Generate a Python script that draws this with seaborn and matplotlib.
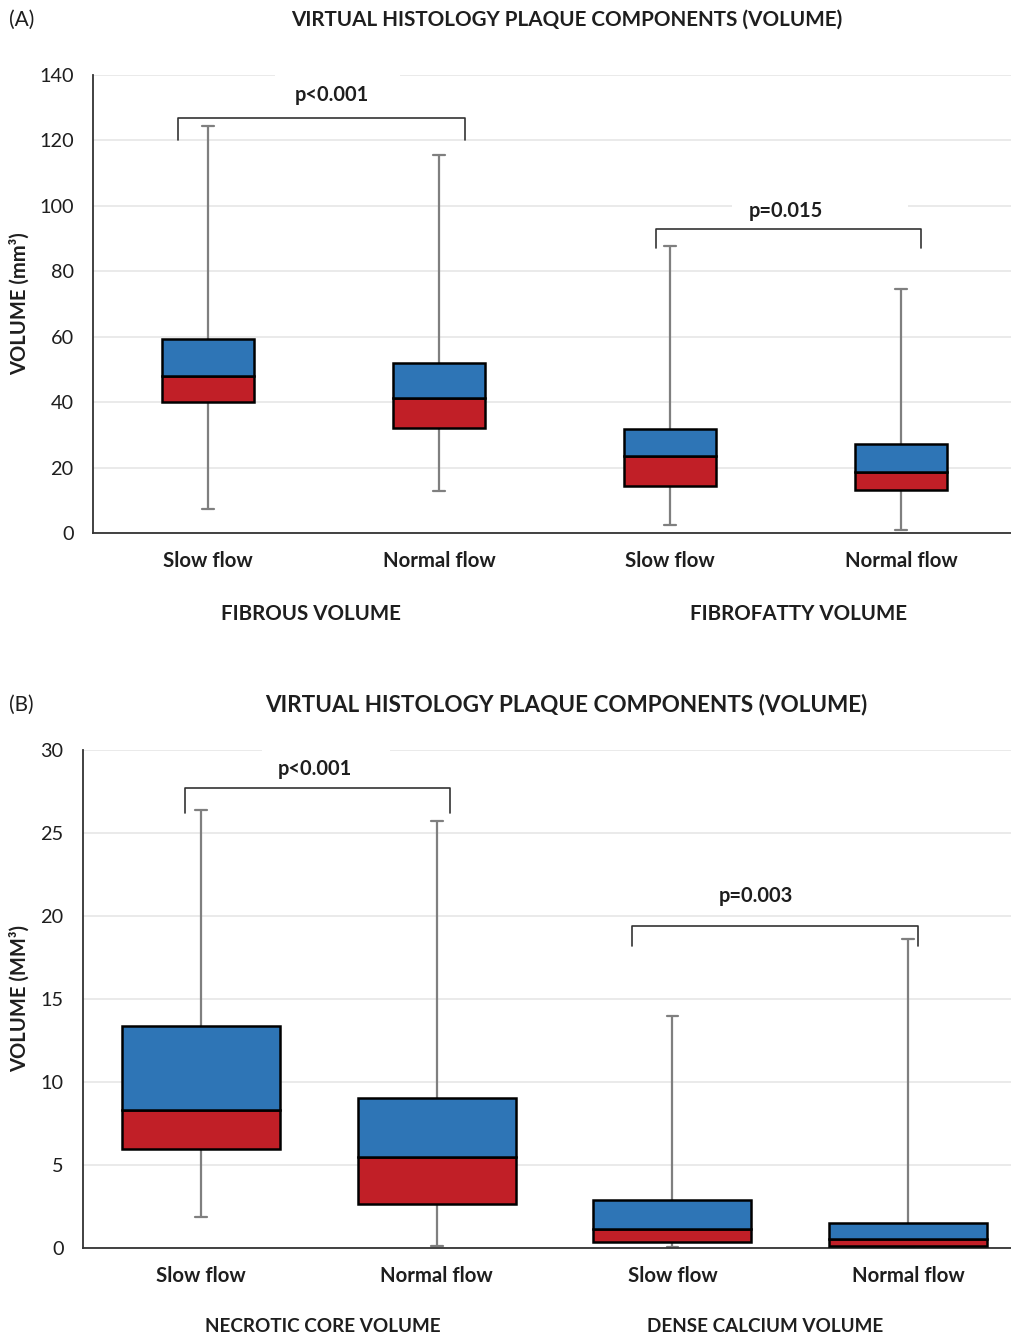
import matplotlib
matplotlib.use("Agg")
import matplotlib.pyplot as plt
import matplotlib.transforms as mtransforms
from matplotlib.patches import Rectangle
import numpy as np
import pandas as pd
import seaborn as sns

# ---- data: five-number summaries per group (volume) ----
flow_labels = ["Slow flow", "Normal flow", "Slow flow", "Normal flow"]

a_keys = ["fibrous_slow", "fibrous_normal", "fibrofatty_slow", "fibrofatty_normal"]
a_min = [7.3, 12.8, 2.4, 0.9]
a_q1 = [40.0, 32.0, 14.5, 13.1]
a_med = [48.0, 41.4, 23.6, 18.6]
a_q3 = [59.3, 52.1, 31.7, 27.2]
a_max = [124.4, 115.6, 87.7, 74.6]
a_groups = ["FIBROUS VOLUME", "FIBROFATTY VOLUME"]
a_pvalues = ["p<0.001", "p=0.015"]

b_keys = ["necrotic_slow", "necrotic_normal", "calcium_slow", "calcium_normal"]
b_min = [1.87, 0.14, 0.05, 0.0]
b_q1 = [5.95, 2.68, 0.35, 0.14]
b_med = [8.30, 5.48, 1.14, 0.57]
b_q3 = [13.37, 9.05, 2.89, 1.50]
b_max = [26.4, 25.7, 14.0, 18.6]
b_groups = ["NECROTIC CORE VOLUME", "DENSE CALCIUM VOLUME"]
b_pvalues = ["p<0.001", "p=0.003"]

BLUE = "#2E75B6"
RED = "#C11F27"
WHISKER = "#7F7F7F"
GRID = "#E6E6E6"
INK = "#1E1E1E"

W, H = 1012, 1336
sns.set_theme(style="white")
plt.rcParams["font.family"] = ["Lato", "DejaVu Sans"]

fig = plt.figure(figsize=(W / 100, H / 100), dpi=100)


def fx(px):
    return px / W


def fy(py):
    return 1 - py / H


def panel(rect, keys, vmin, q1, med, q3, vmax, width, ylim, yticks, xlim,
          groups, group_x, group_py, group_size, pvals, brackets, ptext, gaps):
    ax = fig.add_axes(rect)
    ax.set_axisbelow(True)

    # whiskers and caps from the five-number summary
    long = pd.DataFrame({
        "key": np.repeat(keys, 5),
        "value": np.column_stack([vmin, q1, med, q3, vmax]).ravel(),
    })
    sns.boxplot(data=long, x="key", y="value", order=keys, ax=ax,
                whis=(0, 100), fill=False, showbox=False, showfliers=False,
                color=WHISKER, linewidth=1.6, width=width,
                capwidths=0.05, medianprops={"visible": False})

    # stacked box: lower half (Q1 -> median) red, upper half (median -> Q3) blue
    q1a, meda, q3a = map(np.asarray, (q1, med, q3))
    sns.barplot(x=keys, y=meda - q1a, bottom=q1a, order=keys, ax=ax,
                color=RED, edgecolor="black", linewidth=1.8, width=width,
                errorbar=None, saturation=1, zorder=3)
    sns.barplot(x=keys, y=q3a - meda, bottom=meda, order=keys, ax=ax,
                color=BLUE, edgecolor="black", linewidth=1.8, width=width,
                errorbar=None, saturation=1, zorder=3)

    ax.set_xlim(*xlim)
    ax.set_ylim(*ylim)
    ax.set_yticks(yticks)
    ax.set_yticklabels([str(t) for t in yticks], fontsize=14.3, color=INK)
    ax.set_xticks(range(len(keys)))
    ax.set_xticklabels(flow_labels, fontsize=14.7, fontweight="bold", color=INK)
    ax.tick_params(axis="y", length=0, pad=14)
    ax.tick_params(axis="x", length=0, pad=13)
    ax.set_xlabel("")
    ax.set_ylabel("")
    ax.yaxis.grid(True, color=GRID, linewidth=1.2)
    ax.xaxis.grid(False)
    for s in ("top", "right"):
        ax.spines[s].set_visible(False)
    for s in ("left", "bottom"):
        ax.spines[s].set_color("#333333")
        ax.spines[s].set_linewidth(1.3)

    # label backgrounds interrupting gridlines
    for x0, x1, yv, hh in gaps:
        ax.add_patch(Rectangle((x0, yv - hh), x1 - x0, 2 * hh, facecolor="white",
                               edgecolor="none", zorder=1, clip_on=False))

    # significance brackets
    for (x0, x1, ytop, yend), (tx, ty), txt in zip(brackets, ptext, pvals):
        ax.plot([x0, x0, x1, x1], [yend, ytop, ytop, yend], color="#333333",
                linewidth=1.2, solid_joinstyle="round", zorder=4)
        ax.text(tx, ty, txt, ha="center", va="center", fontsize=14.4,
                fontweight="bold", color=INK)

    # group captions under the categories
    tr = mtransforms.blended_transform_factory(ax.transData, fig.transFigure)
    for gx, g in zip(group_x, groups):
        ax.text(gx, fy(group_py), g, transform=tr, ha="center", va="center",
                fontsize=group_size, fontweight="bold", color=INK)
    return ax


# ---- panel A ----
axA = panel([fx(93), fy(533), fx(1012 - 93), (533 - 75) / H],
            a_keys, a_min, a_q1, a_med, a_q3, a_max, 0.40,
            (0, 140), list(range(0, 141, 20)), (-0.498, 3.48),
            a_groups, [0.446, 2.554], 614, 14.8, a_pvalues,
            [(-0.13, 1.113, 126.9, 120.1), (1.94, 3.087, 92.9, 87.1)],
            [(0.537, 133.9), (2.502, 98.4)],
            [(0.29, 0.83, 140, 1.2), (2.27, 3.03, 100, 1.2)])

# ---- panel B ----
axB = panel([fx(83), fy(1248), fx(1012 - 83), (1248 - 750) / H],
            b_keys, b_min, b_q1, b_med, b_q3, b_max, 0.67,
            (0, 30), list(range(0, 31, 5)), (-0.5, 3.44),
            b_groups, [0.518, 2.393], 1326, 13.6, b_pvalues,
            [(-0.068, 1.056, 27.7, 26.2), (1.829, 3.042, 19.4, 18.2)],
            [(0.484, 28.86), (2.355, 21.2)],
            [(0.26, 0.80, 30, 0.25)])

# titles, panel letters and axis titles
for letter, ty in (("(A)", 20), ("(B)", 705)):
    fig.text(fx(9), fy(ty), letter, ha="left", va="center", fontsize=15, color=INK)
fig.text(fx(567), fy(20), "VIRTUAL HISTOLOGY PLAQUE COMPONENTS (VOLUME)",
         ha="center", va="center", fontsize=14.9, fontweight="bold", color=INK)
fig.text(fx(566), fy(705), "VIRTUAL HISTOLOGY PLAQUE COMPONENTS (VOLUME)",
         ha="center", va="center", fontsize=16.2, fontweight="bold", color=INK)
fig.text(fx(20), fy(304), "VOLUME (mm³)", rotation=90, ha="center", va="center",
         fontsize=14.5, fontweight="bold", color=INK)
fig.text(fx(20), fy(999), "VOLUME (MM³)", rotation=90, ha="center", va="center",
         fontsize=14.5, fontweight="bold", color=INK)

fig.savefig("out.png", dpi=100, facecolor="white")
